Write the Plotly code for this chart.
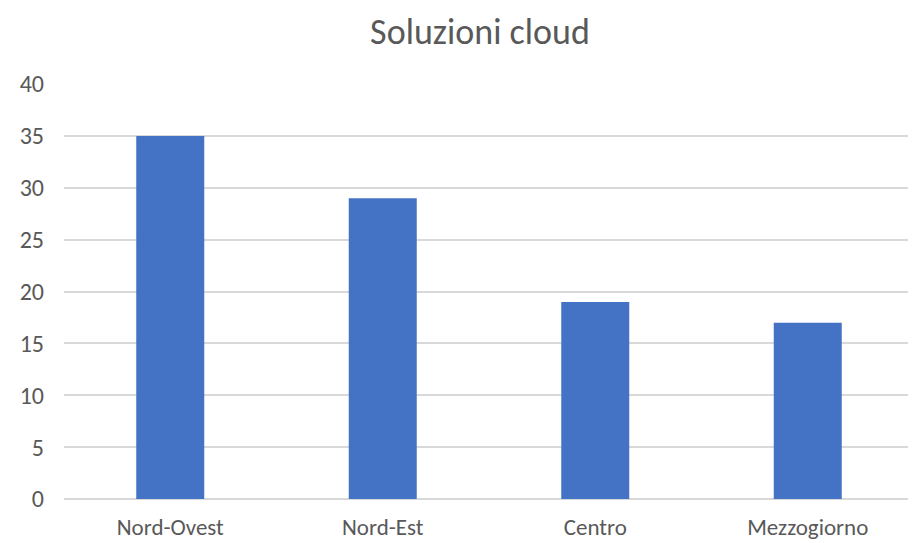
import plotly.graph_objects as go

categories = ['Nord-Ovest', 'Nord-Est', 'Centro', 'Mezzogiorno']
values = [35, 29, 19, 17]

font_family = 'Carlito, Calibri, "Open Sans", sans-serif'
grey = '#595959'

# the page body adds an 8px offset, so margins are shifted to compensate
fig = go.Figure(go.Bar(
    x=categories,
    y=values,
    marker=dict(color='#4472c4', line=dict(color='#4472c4', width=0)),
    width=0.32,
))

fig.update_layout(
    width=916, height=543,
    paper_bgcolor='white', plot_bgcolor='white',
    margin=dict(l=56, r=10, t=76, b=52),
    title=dict(text='Soluzioni cloud', x=(480 - 8) / 916, xanchor='center',
               y=1 - 23 / 543, yanchor='middle',
               font=dict(family=font_family, size=36, color=grey)),
    showlegend=False,
    font=dict(family=font_family, size=24, color=grey),
    bargap=0.68,
)

fig.update_yaxes(
    range=[0, 40], dtick=5, automargin=False,
    showgrid=True, gridcolor='#d9d9d9', gridwidth=1.5,
    zeroline=True, zerolinecolor='#d9d9d9', zerolinewidth=1.5,
    showline=False, ticks='', ticklabelstandoff=19,
    tickfont=dict(family=font_family, size=24, color=grey),
)
fig.update_xaxes(
    automargin=False,
    showgrid=False, showline=False, ticks='', ticklabelstandoff=12,
    tickfont=dict(family=font_family, size=23, color=grey),
)

fig.write_html("out.html")
